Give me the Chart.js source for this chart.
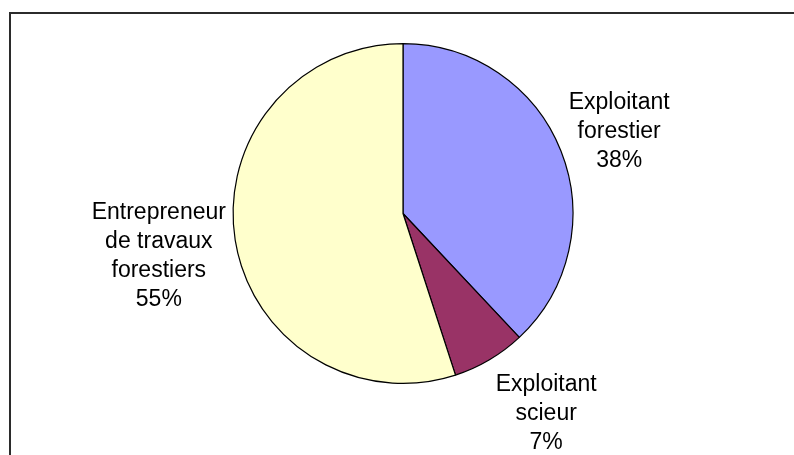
<!DOCTYPE html>
<html lang="fr">
<head>
<meta charset="UTF-8">
<title>Répartition des entreprises</title>
<script src="https://cdn.jsdelivr.net/npm/chart.js"></script>
<style>
  html, body { margin: 0; padding: 0; background: #fff; overflow: hidden; }
  #wrap { position: relative; width: 794px; height: 455px; }
  #frame {
    position: absolute; left: 9px; top: 12px; width: 820px; height: 480px;
    border-left: 2px solid #2b2b2b; border-top: 2px solid #2b2b2b;
  }
  canvas { position: absolute; left: 0; top: 0; }
</style>
</head>
<body>
<div id="wrap">
  <div id="frame"></div>
  <canvas id="pie" width="794" height="455"></canvas>
</div>
<script>
// categories and shares (%)
const categories = [
  ['Exploitant', 'forestier'],
  ['Exploitant', 'scieur'],
  ['Entrepreneur', 'de travaux', 'forestiers']
];
const shares = [38, 7, 55];
const colors = ['#9999ff', '#993366', '#ffffcc'];

// draws the category name + percentage outside each slice
const outsideLabels = {
  id: 'outsideLabels',
  afterDatasetsDraw(chart, args, opts) {
    const ctx = chart.ctx;
    const meta = chart.getDatasetMeta(0);
    const lineH = opts.lineHeight;
    ctx.save();
    ctx.font = opts.fontSize + 'px "Liberation Sans", Arial, sans-serif';
    ctx.fillStyle = '#000';
    ctx.textAlign = 'center';
    ctx.textBaseline = 'middle';
    meta.data.forEach((arc, i) => {
      const p = arc.getProps(['x', 'y', 'startAngle', 'endAngle', 'outerRadius'], true);
      const mid = (p.startAngle + p.endAngle) / 2;
      const ux = Math.cos(mid), uy = Math.sin(mid);
      const lines = categories[i].concat([shares[i] + '%']);
      const w = Math.max(...lines.map(t => ctx.measureText(t).width));
      const h = lines.length * lineH;
      const d = p.outerRadius + opts.gap + Math.abs(ux) * w / 2 + Math.abs(uy) * h / 2;
      const nudge = opts.nudge[i] || [0, 0];
      const cx = p.x + ux * d + nudge[0];
      const cy = p.y + uy * d + nudge[1];
      lines.forEach((t, k) => {
        ctx.fillText(t, cx, cy - h / 2 + lineH * (k + 0.5));
      });
    });
    ctx.restore();
  }
};

new Chart(document.getElementById('pie'), {
  type: 'pie',
  data: {
    labels: categories.map(c => c.join(' ')),
    datasets: [{
      data: shares,
      backgroundColor: colors,
      borderColor: '#000',
      borderWidth: 1.2
    }]
  },
  options: {
    responsive: false,
    animation: false,
    layout: { padding: { top: 43, bottom: 71, left: 232, right: 220 } },
    plugins: {
      legend: { display: false },
      tooltip: { enabled: false },
      outsideLabels: {
        fontSize: 23,
        lineHeight: 29,
        gap: 5,
        nudge: [[-5, 6], [22, -5], [3, 4]]
      }
    }
  },
  plugins: [outsideLabels]
});
</script>
</body>
</html>
